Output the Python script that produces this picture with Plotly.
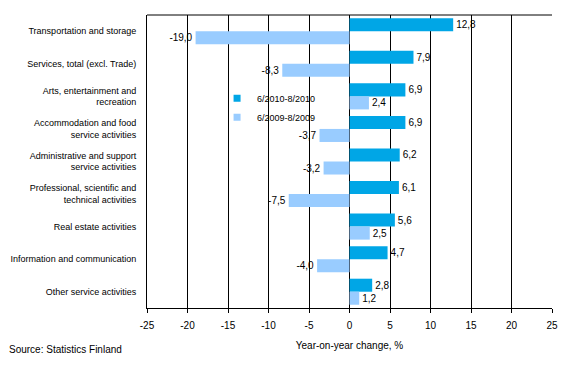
import plotly.graph_objects as go

categories = [
    "Transportation and storage",
    "Services, total (excl. Trade)",
    "Arts, entertainment and<br>recreation",
    "Accommodation and food<br>service activities",
    "Administrative and support<br>service activities",
    "Professional, scientific and<br>technical activities",
    "Real estate activities",
    "Information and communication",
    "Other service activities",
]
series_2010 = [12.8, 7.9, 6.9, 6.9, 6.2, 6.1, 5.6, 4.7, 2.8]
series_2009 = [-19.0, -8.3, 2.4, -3.7, -3.2, -7.5, 2.5, -4.0, 1.2]
series_names = ["6/2010-8/2010", "6/2009-8/2009"]
tick_values = [-25, -20, -15, -10, -5, 0, 5, 10, 15, 20, 25]
colors = ["#00A6E6", "#99CCFF"]

FONT = "Liberation Sans, Arial, sans-serif"

def fmt(v):
    return f"{v:.1f}".replace(".", ",")

fig = go.Figure()
for name, vals, color in [(series_names[0], series_2010, colors[0]),
                          (series_names[1], series_2009, colors[1])]:
    fig.add_trace(go.Bar(
        y=categories, x=vals, name=name, orientation="h",
        marker=dict(color=color, line=dict(width=0)),
        text=[fmt(v) for v in vals], textposition="outside",
        textfont=dict(family=FONT, size=10, color="black"),
        cliponaxis=False, showlegend=False,
    ))
# legend-only entries with small square markers
for name, color in zip(series_names, colors):
    fig.add_trace(go.Scatter(
        x=[None], y=[None], mode="markers", name=name,
        marker=dict(symbol="square", size=7, color=color),
        showlegend=True,
    ))

fig.update_layout(
    width=567, height=372,
    margin=dict(l=147, r=15, t=15, b=64, autoexpand=False),
    paper_bgcolor="white", plot_bgcolor="white",
    barmode="group", bargap=0.2, bargroupgap=0,
    font=dict(family=FONT, size=9, color="black"),
    showlegend=True,
    legend=dict(x=0.173, y=0.765, xanchor="left", yanchor="top",
                bgcolor="rgba(0,0,0,0)", font=dict(size=9),
                itemwidth=30, tracegroupgap=0),
    xaxis=dict(range=[-25, 25], tickvals=tick_values,
               ticktext=[str(t) for t in tick_values],
               showgrid=True, gridcolor="black", gridwidth=1,
               zeroline=True, zerolinecolor="black", zerolinewidth=1,
               showline=True, linecolor="black", linewidth=1, mirror=False,
               ticks="outside", ticklen=4, tickcolor="black",
               tickfont=dict(size=10), automargin=False, ticklabelstandoff=4,
               title=dict(text="Year-on-year change, %", font=dict(size=10), standoff=11)),
    yaxis=dict(autorange="reversed", showline=True, linecolor="black", linewidth=1,
               ticks="", showgrid=False, tickfont=dict(size=9), ticklabelstandoff=8,
               automargin=False),
)
# top border line of plot area
fig.add_shape(type="line", xref="paper", yref="paper", x0=0, x1=1, y0=1, y1=1,
              line=dict(color="black", width=1))
fig.add_annotation(text="Source: Statistics Finland", xref="paper", yref="paper",
                   x=-140/405, y=-34/293, xanchor="left", yanchor="top",
                   showarrow=False, font=dict(size=10))

fig.write_html("out.html", config={"displayModeBar": False},
               post_script="document.body.style.margin='0';")
